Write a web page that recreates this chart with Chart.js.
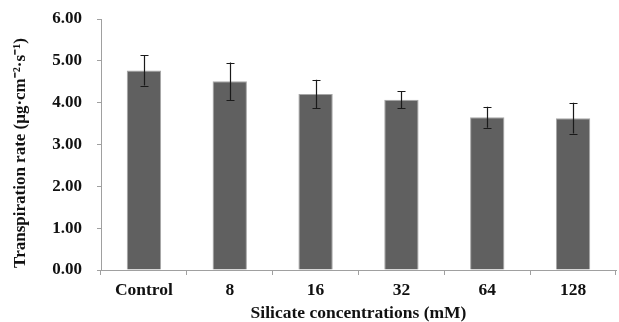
<!DOCTYPE html>
<html>
<head>
<meta charset="utf-8">
<script src="https://cdn.jsdelivr.net/npm/chart.js@4"></script>
<style>
  body { margin: 0; background: #fff; }
  #wrap { width: 619px; height: 322px; }
</style>
</head>
<body>
<div id="wrap"><canvas id="rateChart"></canvas></div>
<script>
// categories and values
const categories = ['Control', '8', '16', '32', '64', '128'];
const rateValues = [4.77, 4.51, 4.21, 4.07, 3.65, 3.63];
const rateErrors = [0.36, 0.45, 0.34, 0.20, 0.25, 0.37];
const yTicks = [0, 1, 2, 3, 4, 5, 6];

// draw the error bars on top of each bar
const errorBarPlugin = {
  id: 'errorBars',
  afterDatasetsDraw(chart) {
    const ctx = chart.ctx;
    const meta = chart.getDatasetMeta(0);
    const yScale = chart.scales.y;
    ctx.save();
    ctx.strokeStyle = '#1a1a1a';
    ctx.lineWidth = 1.2;
    meta.data.forEach((bar, i) => {
      const x = Math.round(bar.x) + 0.5;
      const top = yScale.getPixelForValue(rateValues[i] + rateErrors[i]);
      const bottom = yScale.getPixelForValue(rateValues[i] - rateErrors[i]);
      ctx.beginPath();
      ctx.moveTo(x, top);
      ctx.lineTo(x, bottom);
      ctx.moveTo(x - 4, Math.round(top) + 0.5);
      ctx.lineTo(x + 4, Math.round(top) + 0.5);
      ctx.moveTo(x - 4, Math.round(bottom) + 0.5);
      ctx.lineTo(x + 4, Math.round(bottom) + 0.5);
      ctx.stroke();
    });
    ctx.restore();
  }
};

const font = { family: "'Liberation Serif', 'Times New Roman', serif", weight: 'bold' };
const padLeft = 10;

const ctx = document.getElementById('rateChart').getContext('2d');
const rateChart = new Chart(ctx, {
  type: 'bar',
  data: {
    labels: categories,
    datasets: [{
      data: rateValues,
      backgroundColor: '#606060',
      borderColor: '#a6a6a6',
      borderWidth: 1,
      categoryPercentage: 1.0,
      barPercentage: 0.4
    }]
  },
  options: {
    responsive: true,
    maintainAspectRatio: false,
    animation: false,
    layout: { padding: { top: 19, right: 3, bottom: 0, left: padLeft } },
    plugins: {
      legend: { display: false },
      tooltip: { enabled: false }
    },
    scales: {
      x: {
        offset: true,
        grid: {
          offset: true,
          drawOnChartArea: false,
          drawTicks: true,
          tickLength: 5,
          color: '#a0a0a0'
        },
        border: { color: '#a0a0a0' },
        ticks: { color: '#111', font: { ...font, size: 17.5 }, padding: 5 },
        title: {
          display: true,
          text: 'Silicate concentrations (mM)',
          color: '#111',
          font: { ...font, size: 17.5 },
          padding: { top: -3, bottom: -2 }
        }
      },
      y: {
        min: 0,
        max: 6,
        afterBuildTicks: axis => { axis.ticks = yTicks.map(v => ({ value: v })); },
        afterFit: axis => {
          axis.width = 101 - padLeft;
          axis.paddingTop = 0;
          axis.paddingBottom = 0;
        },
        grid: {
          drawOnChartArea: false,
          drawTicks: true,
          tickLength: 4,
          color: '#a0a0a0'
        },
        border: { color: '#a0a0a0' },
        ticks: {
          color: '#111',
          font: { ...font, size: 17 },
          padding: 15,
          callback: v => v.toFixed(2)
        },
        title: {
          display: true,
          // trailing spaces nudge the rotated title down like the original
          text: 'Transpiration rate (\u03bcg\u00b7cm\u207b\u00b2\u00b7s\u207b\u00b9)\u00a0\u00a0\u00a0\u00a0',
          color: '#111',
          font: { ...font, size: 17 },
          padding: { top: 0, bottom: 6 }
        }
      }
    }
  },
  plugins: [errorBarPlugin]
});
</script>
</body>
</html>
